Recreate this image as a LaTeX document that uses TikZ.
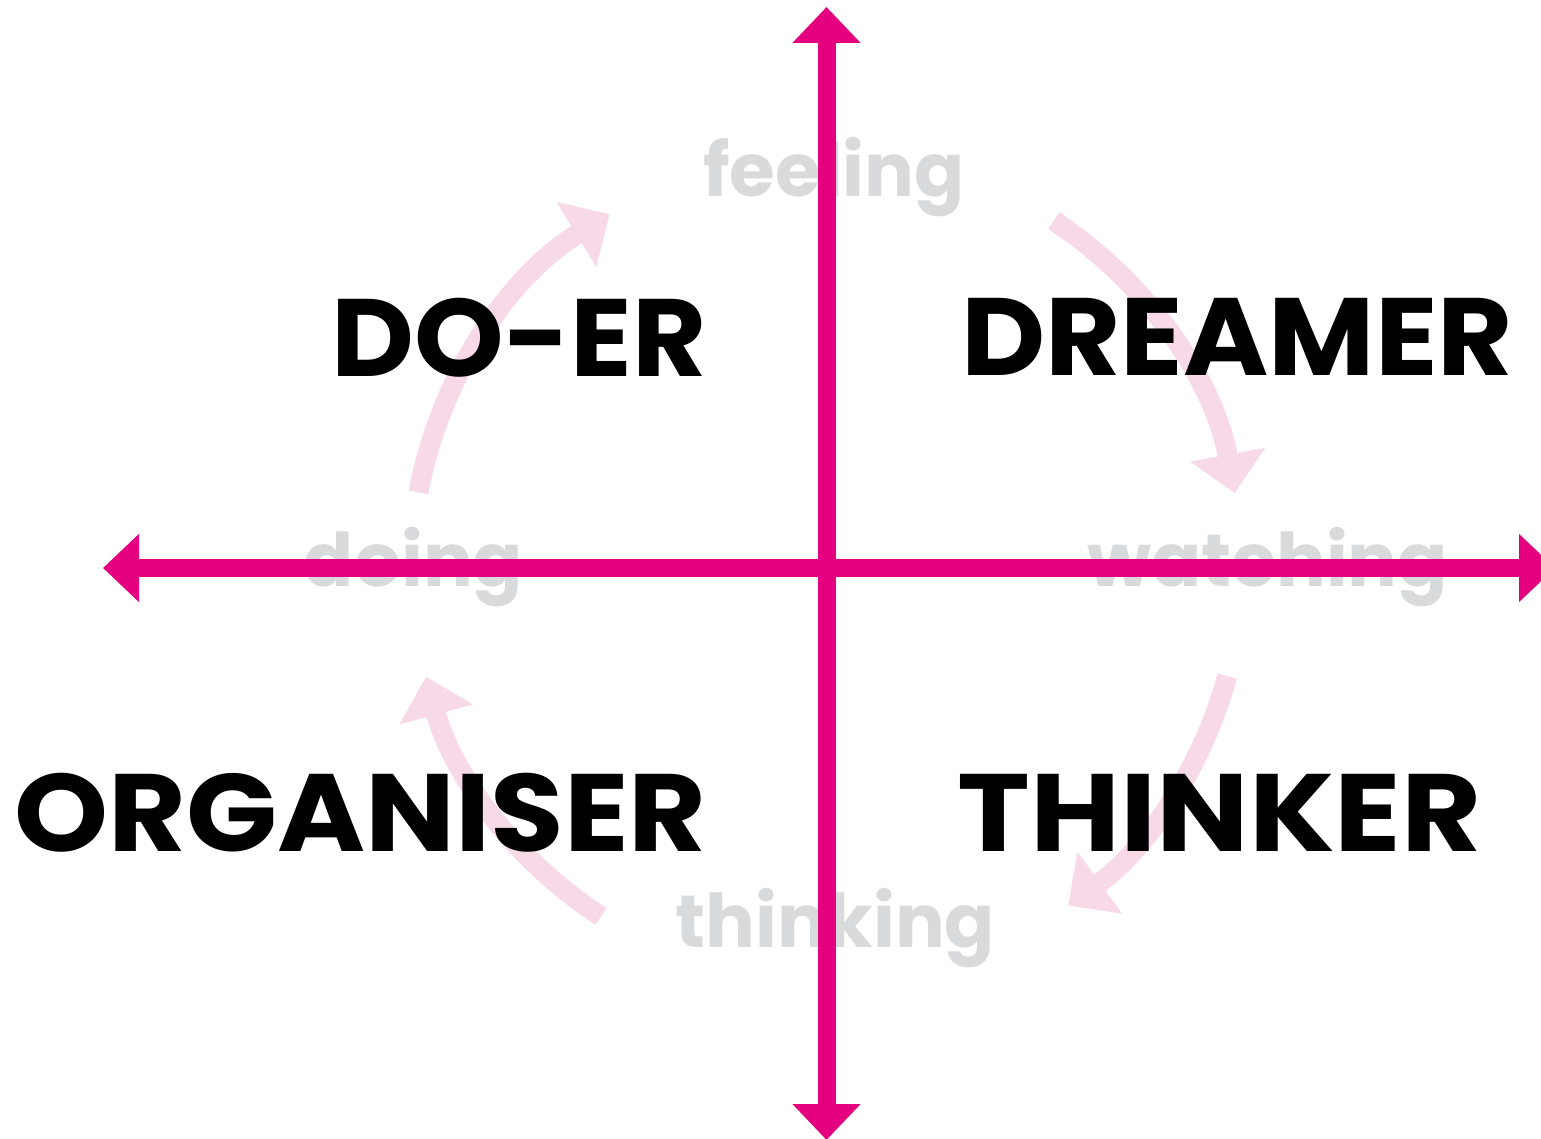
\documentclass[tikz,border=0pt]{standalone}
\usepackage{fontspec}
\setmainfont{Poppins}
\usetikzlibrary{arrows.meta}
\definecolor{axis-pink}{HTML}{E4007F}
\definecolor{flow-pink}{HTML}{F7D9E8}
\definecolor{word-grey}{HTML}{D9DADB}
\def\rad{415}
\def\wlist{{(834,941)/feel/feeling}, {(413.5,551)/do/doing}, {(1267.5,551)/watch/watching}, {(835.5,191)/think/thinking}}
\def\rlist{{(707,800.5)/doer/east/1.037/DO-ER}, {(961,801)/dreamer/west/1.053/DREAMER}, {(707,325.5)/organiser/east/1.087/ORGANISER}, {(957,325.5)/thinker/west/1.12/THINKER}}
\def\flist{{doer/169.5/121.5}, {dreamer/56.8/10.4}, {thinker/-15.1/-54.4}, {organiser/237.1/195.2}}
\tikzstyle{axis-line} = [draw, axis-pink, line width=18pt, arrows={Triangle[width=66pt,length=36pt]-Triangle[width=66pt,length=36pt]}]
\tikzstyle{flow-arrow} = [draw, flow-pink, line width=20pt, arrows={-Triangle[width=74pt,length=39pt]}]
\tikzstyle{word}=[text=word-grey, anchor=base, inner sep=0pt, font=\fontsize{74}{74}\selectfont\bfseries]
\tikzstyle{role}=[text=black, inner sep=0pt, font=\fontsize{110}{110}\selectfont\bfseries]

\begin{document}
\begin{tikzpicture}[x=1pt, y=1pt]
  \useasboundingbox (0,0) rectangle (1541,1138);
  \coordinate (centre) at (826.5,570);
  \coordinate (left) at (103,570);
  \coordinate (right) at (1555,570);
  \coordinate (top) at (826.5,1131);
  \coordinate (bottom) at (826.5,-2);

  \foreach \pos/\name/\txt in \wlist {
    \node[word] (\name) at \pos {\txt};
  }

  \foreach \name/\from/\to in \flist {
    \coordinate (\name-from) at ([shift={(\from:\rad)}]centre);
    \path[flow-arrow] (\name-from) arc[start angle=\from, end angle=\to, radius=\rad];
  }

  \path[axis-line] (left) -- (right);
  \path[axis-line] (bottom) -- (top);

  \foreach \pos/\name/\side/\sx/\txt in \rlist {
    \node[role, anchor=\side] (\name) at \pos {\scalebox{\sx}[1]{\txt}};
  }
\end{tikzpicture}
\end{document}
